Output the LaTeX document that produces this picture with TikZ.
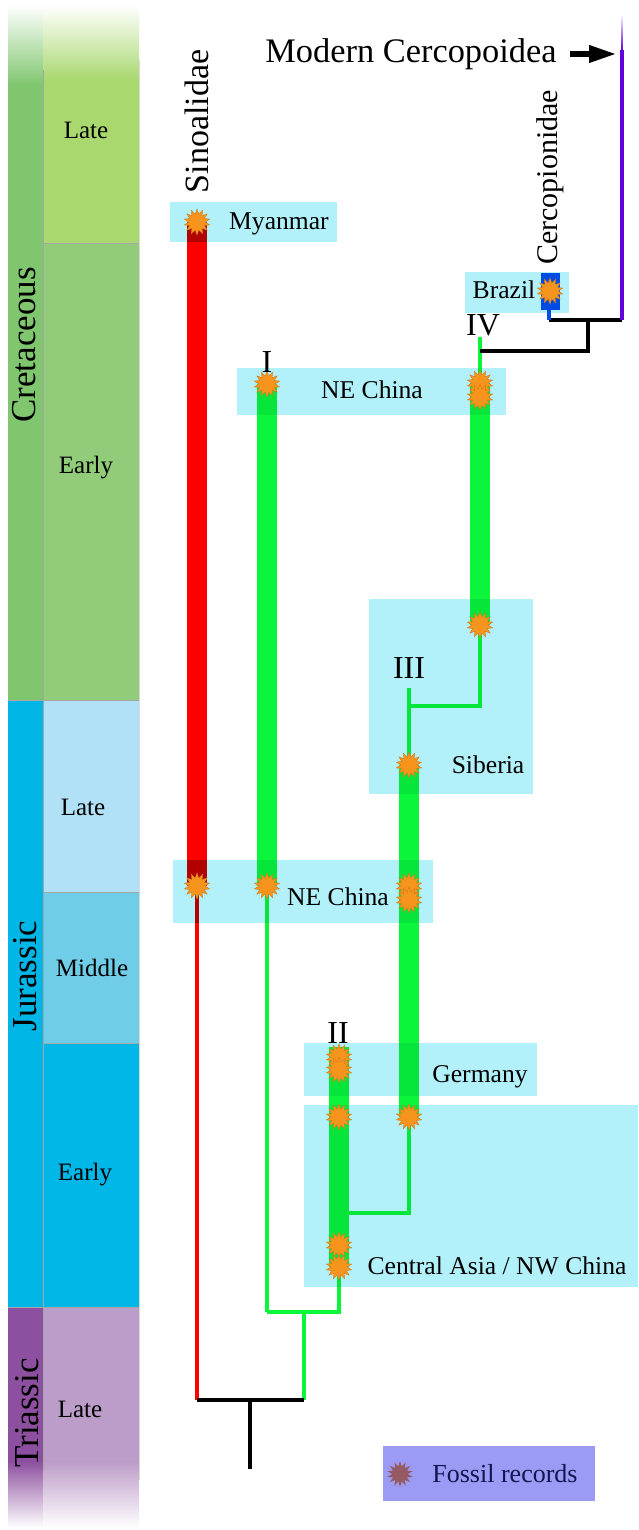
\documentclass[tikz,border=0pt]{standalone}
\usepackage{fontspec}
\setmainfont{Liberation Serif}
\usetikzlibrary{shapes.geometric,arrows.meta}
\definecolor{cretP}{RGB}{127,198,110}
\definecolor{cretL}{RGB}{168,216,110}
\definecolor{cretE}{RGB}{146,203,122}
\definecolor{jurP}{RGB}{0,182,230}
\definecolor{jurL}{RGB}{176,225,247}
\definecolor{jurM}{RGB}{112,205,232}
\definecolor{jurE}{RGB}{0,183,231}
\definecolor{triP}{RGB}{141,80,160}
\definecolor{triL}{RGB}{188,156,200}
\definecolor{regionc}{RGB}{178,240,250}
\definecolor{fossilc}{RGB}{247,148,29}
\definecolor{sinored}{RGB}{255,0,0}
\definecolor{cladegreen}{RGB}{10,245,60}
\definecolor{cercblue}{RGB}{0,80,230}
\definecolor{modpurple}{RGB}{100,0,220}
\definecolor{legendc}{RGB}{155,155,245}
\definecolor{legendstar}{RGB}{150,90,100}
\definecolor{legendtext}{RGB}{20,20,80}
\tikzset{
  fossil/.style={star, star points=14, star point ratio=1.6, fill=fossilc, draw=fossilc!85!black, line width=0.2pt, minimum size=13pt, inner sep=0pt},
  regionbox/.style={fill=regionc},
  regionlabel/.style={font=\fontsize{12.8}{14}\selectfont, anchor=base, inner sep=0pt},
  epochlabel/.style={font=\fontsize{12.5}{14}\selectfont, anchor=base, inner sep=0pt},
  periodlabel/.style={font=\fontsize{17.5}{20}\selectfont, anchor=base, rotate=90, inner sep=0pt},
  cladelabel/.style={font=\fontsize{16}{18}\selectfont, anchor=base, inner sep=0pt},
  thickred/.style={draw=sinored, line width=10pt},
  thinred/.style={draw=sinored, line width=2pt},
  thickgreen/.style={draw=cladegreen, line width=10pt},
  thingreen/.style={draw=cladegreen, line width=2pt, line join=miter},
  blackline/.style={draw=black, line width=2pt, line join=miter},
  border/.style={draw=black!35, line width=0.4pt},
}
\begin{document}
\begin{tikzpicture}[x=0.5pt,y=-0.5pt]
\useasboundingbox (0,0) rectangle (638,1530);
% ---------- time scale ----------
% Cretaceous
\fill[cretP] (8,85) rectangle (43,700);
\shade[top color=white, bottom color=cretP] (8,5) rectangle (43,85.5);
\fill[cretL] (43,80) rectangle (139,243);
\shade[top color=white, bottom color=cretL] (43,5) rectangle (139,80.5);
\fill[cretE] (43,243) rectangle (139,700);
% Jurassic
\fill[jurP] (8,700) rectangle (43,1307);
\fill[jurL] (43,700) rectangle (139,892);
\fill[jurM] (43,892) rectangle (139,1043);
\fill[jurE] (43,1043) rectangle (139,1307);
% Triassic
\fill[triP] (8,1307) rectangle (43,1462);
\shade[top color=triP, bottom color=white] (8,1461.5) rectangle (43,1528);
\fill[triL] (43,1307) rectangle (139,1462);
\shade[top color=triL, bottom color=white] (43,1461.5) rectangle (139,1528);
% borders
\draw[border] (43,70) -- (43,1470);
\draw[border] (43,243) -- (139,243);
\draw[border] (8,700) -- (139,700);
\draw[border] (43,892) -- (139,892);
\draw[border] (43,1043) -- (139,1043);
\draw[border] (8,1307) -- (139,1307);
\draw[border, draw=black!15] (139,60) -- (139,1480);
% labels
\node[periodlabel] (cret) at (35,345) {Cretaceous};
\node[periodlabel] (jur) at (36,976) {Jurassic};
\node[periodlabel] (tri) at (38,1413) {Triassic};
\node[epochlabel] (lk) at (86,139) {Late};
\node[epochlabel] (ek) at (86,473) {Early};
\node[epochlabel] (lj) at (83,815) {Late};
\node[epochlabel] (mj) at (92,976) {Middle};
\node[epochlabel] (ej) at (85,1180) {Early};
\node[epochlabel] (lt) at (80,1417) {Late};

% ---------- fossil star nodes (positions) ----------
\path
  (197,222) coordinate (myanC)
  (267,384) coordinate (neIC)
  (480,383) coordinate (ivAC)
  (480,397) coordinate (ivBC)
  (550,291) coordinate (brazC)
  (480,625) coordinate (sibTC)
  (409,765) coordinate (sibLC)
  (197,886) coordinate (neSC)
  (267,886) coordinate (neI2C)
  (409,886) coordinate (neIIIaC)
  (409,900) coordinate (neIIIbC)
  (339,1057) coordinate (gerAC)
  (339,1070) coordinate (gerBC)
  (339,1117) coordinate (caIIC)
  (409,1117) coordinate (caIIIC)
  (339,1245) coordinate (caAC)
  (339,1267) coordinate (caBC);
% tree coordinates
\coordinate (root) at (250,1469);
\coordinate (rootM) at (250,1400);
\coordinate (rootL) at (197,1400);
\coordinate (rootR) at (304,1400);
\coordinate (gR) at (304,1312);
\coordinate (gI) at (267,1312);
\coordinate (gII) at (339,1312);
\coordinate (brIII) at (339,1213);
\coordinate (brIIIr) at (409,1213);
\coordinate (stubIII) at (409,688);
\coordinate (brIV) at (409,706);
\coordinate (brIVr) at (480,706);
\coordinate (stubIV) at (480,337);
\coordinate (jIV) at (480,351);
\coordinate (jIVr) at (588,351);
\coordinate (jTop) at (588,320);
\coordinate (jCerc) at (549,320);
\coordinate (jMod) at (622,320);
\coordinate (cercBot) at (549,310);
\coordinate (modTop) at (622,50);
\coordinate (modEnd) at (622,14);

% ---------- branches ----------
\draw[thickred] (myanC) -- (neSC);
\draw[thinred] (neSC) -- (rootL);
\draw[thickgreen] (neI2C) -- (neIC);
\draw[thingreen] (gI) -- (neI2C);
\draw[thingreen] (neI2C |- gI) -- (gII) -- (caBC);
\draw[thingreen] (rootR) -- (gR);
\draw[thickgreen] (caBC) -- ([yshift=5]gerAC);
\draw[thingreen] (brIII) -- (brIIIr) -- (caIIIC);
\draw[thickgreen] (caIIIC) -- (sibLC);
\draw[thingreen] (sibLC) -- (stubIII);
\draw[thingreen] (brIV) -- (brIVr) -- (sibTC);
\draw[thickgreen] (sibTC) -- (ivAC);
\draw[thingreen] (ivAC) -- (stubIV);
\draw[blackline] (rootL) -- (rootR);
\draw[blackline] (root) -- (rootM);
\draw[blackline] (jIV) -- (jIVr) -- (jTop);
\draw[blackline] (jCerc) -- (jMod);
\draw[draw=cercblue, line width=2pt] (jCerc) -- (cercBot);
\fill[cercblue] (541,273) rectangle (560,310);
\draw[draw=modpurple, line width=1.6pt] (jMod) -- (modTop);
\shade[top color=white, bottom color=modpurple] (621.2,14) rectangle (622.8,50.5);

% ---------- regions ----------
\begin{scope}[blend mode=multiply]
\fill[regionbox] (170,202) rectangle (337,242);
\fill[regionbox] (465,272) rectangle (569,313);
\fill[regionbox] (237,368) rectangle (506,415);
\fill[regionbox] (369,599) rectangle (533,794);
\fill[regionbox] (173,860) rectangle (433,923);
\fill[regionbox] (304,1043) rectangle (537,1096);
\fill[regionbox] (304,1105) rectangle (638,1287);
\end{scope}
\node[regionlabel] (lmyan) at (279,230) {Myanmar};
\node[regionlabel] (lbraz) at (504,298) {Brazil};
\node[regionlabel] (lne1) at (372,398) {NE China};
\node[regionlabel] (lsib) at (488,773) {Siberia};
\node[regionlabel] (lne2) at (338,905) {NE China};
\node[regionlabel] (lger) at (480,1082) {Germany};
\node[regionlabel] (lca) at (497,1274) {Central Asia / NW China};

% ---------- stars ----------
\foreach \s in {myan,neI,ivA,ivB,braz,sibT,sibL,neS,neI2,neIIIa,neIIIb,gerA,gerB,caII,caIII,caA,caB}
  \node[fossil] (\s) at (\s C) {};

% ---------- clade labels ----------
\node[cladelabel] (cI) at (267,372) {I};
\node[cladelabel] (cII) at (338,1043) {II};
\node[cladelabel] (cIII) at (409,678) {III};
\node[cladelabel] (cIV) at (483,335) {IV};
\node[font=\fontsize{17}{20}\selectfont, anchor=base, rotate=90, inner sep=0pt] (sino) at (208,121.5) {Sinoalidae};
\node[font=\fontsize{15}{18}\selectfont, anchor=base, rotate=90, inner sep=0pt] (cerc) at (557,177.5) {Cercopionidae};
\node[font=\fontsize{17.2}{20}\selectfont, anchor=base, inner sep=0pt] (mod) at (411,63) {Modern Cercopoidea};
\coordinate (arrEnd) at (617,54);
\coordinate (arrStart) at (570,54);
\draw[line width=3.2pt, -{Triangle[length=14pt,width=8pt]}] (arrStart) -- (arrEnd);

% ---------- legend ----------
\fill[legendc] (383,1446) rectangle (595,1501);
\node[star, star points=14, star point ratio=1.7, fill=legendstar, minimum size=13pt, inner sep=0pt] (legstar) at (400,1474) {};
\node[font=\fontsize{13}{15}\selectfont, text=legendtext, anchor=base, inner sep=0pt] (legtext) at (505,1482) {Fossil records};
\end{tikzpicture}
\end{document}
